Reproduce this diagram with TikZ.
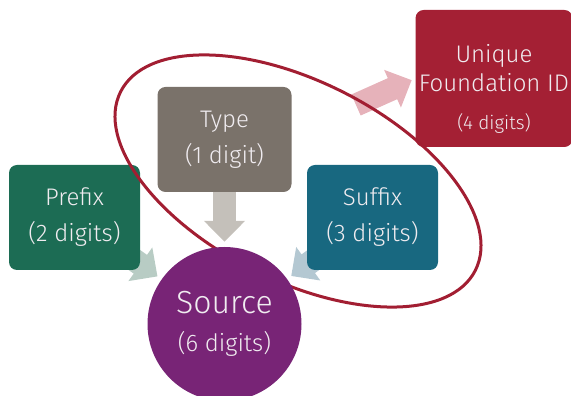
\documentclass[tikz,border=0pt]{standalone}
\usepackage{fontspec}
\setmainfont{Fira Sans}[UprightFont=* Light]
\usetikzlibrary{arrows.meta,positioning,shapes,backgrounds}
\definecolor{prefixcol}{RGB}{28,108,84}
\definecolor{typecol}{RGB}{122,114,106}
\definecolor{suffixcol}{RGB}{24,104,128}
\definecolor{uficol}{RGB}{164,32,52}
\definecolor{sourcecol}{RGB}{120,36,118}
\definecolor{ringcol}{RGB}{162,30,50}
\definecolor{labelcol}{RGB}{240,236,240}
\definecolor{prefixarr}{RGB}{184,204,196}
\definecolor{typearr}{RGB}{196,192,186}
\definecolor{suffixarr}{RGB}{180,200,210}
\definecolor{ufiarr}{RGB}{230,178,186}

\begin{document}
\begin{tikzpicture}[x=1pt, y=1pt,
  part/.style={rectangle, rounded corners=8pt,
    minimum width=131pt, minimum height=105pt,
    text=labelcol, align=center,
    font=\fontsize{24}{36}\selectfont},
  sourcedisk/.style={circle, minimum size=154pt, inner sep=0pt,
    fill=sourcecol, text=labelcol, align=center,
    font=\fontsize{24}{38}\selectfont},
  ring/.style={draw=ringcol, line width=3pt},
  blockarrow/.style={line width=23pt,
    -{Triangle[length=21pt, width=40pt]}, shorten >=5pt}
]
\useasboundingbox (0,0) rectangle (571,396);

% Parts
\node[part, fill=prefixcol] (prefix) at (74.5,178.5) {Prefix\\(2 digits)};
\node[part, fill=typecol, minimum width=134pt] (type) at (224.5,256.5)
  {Type\\(1 digit)};
\node[part, fill=suffixcol] (suffix) at (372.5,178.5) {Suffix\\(3 digits)};
\node[part, fill=uficol, minimum width=152pt, minimum height=137pt,
  font=\fontsize{24}{29}\selectfont] (ufi) at (494,317.5)
  {\rule{0pt}{38pt}Unique\\Foundation ID\\[9pt]{\fontsize{19}{22}\selectfont (4 digits)}};

% Ring round the parts
\draw[ring] (298,215) ellipse [x radius=198.6, y radius=99.7, rotate=-26.7];

\node[sourcedisk] (source) at (224.5,72)
  {{\fontsize{32}{38}\selectfont Source}\\(6 digits)};

% Arrows
\coordinate (idtail) at (356,291);
\begin{scope}[on background layer]
\draw[blockarrow, prefixarr] (prefix.center) -- (source);
\draw[blockarrow, typearr] (type.center) -- (source);
\draw[blockarrow, suffixarr] (suffix.center) -- (source);
\draw[blockarrow, ufiarr, shorten >=4pt] (idtail) -- (ufi.west);
\end{scope}
\end{tikzpicture}
\end{document}
